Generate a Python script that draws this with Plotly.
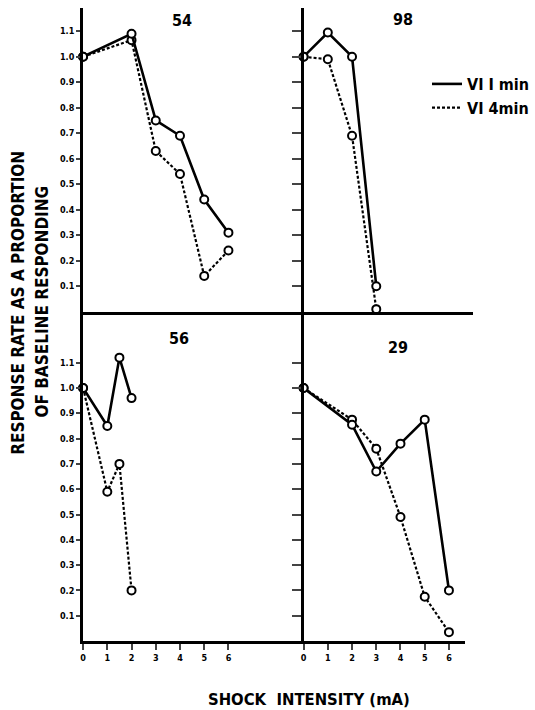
import plotly.graph_objects as go

# ---------------- data ----------------
x_54_1 = [0, 2, 3, 4, 5, 6]
y_54_1 = [1.0, 1.09, 0.75, 0.69, 0.44, 0.31]
x_54_4 = [0, 2, 3, 4, 5, 6]
y_54_4 = [1.0, 1.065, 0.63, 0.54, 0.14, 0.24]

x_98_1 = [0, 1, 2, 3]
y_98_1 = [1.0, 1.095, 1.0, 0.10]
x_98_4 = [0, 1, 2, 3]
y_98_4 = [1.0, 0.99, 0.69, 0.01]

x_56_1 = [0, 1, 1.5, 2]
y_56_1 = [1.0, 0.85, 1.12, 0.96]
x_56_4 = [0, 1, 1.5, 2]
y_56_4 = [1.0, 0.59, 0.70, 0.20]

x_29_1 = [0, 2, 3, 4, 5, 6]
y_29_1 = [1.0, 0.855, 0.67, 0.78, 0.875, 0.20]
x_29_4 = [0, 2, 3, 4, 5, 6]
y_29_4 = [1.0, 0.875, 0.76, 0.49, 0.175, 0.035]

y_tickvals = [0.1, 0.2, 0.3, 0.4, 0.5, 0.6, 0.7, 0.8, 0.9, 1.0, 1.1]
y_ticktext = ["0.1", "0.2", "0.3", "0.4", "0.5", "0.6", "0.7", "0.8", "0.9", "1.0", "1.1"]
x_tickvals = [0, 1, 2, 3, 4, 5, 6]
x_ticktext = ["0", "1", "2", "3", "4", "5", "6"]

panel_titles = ["54", "98", "56", "29"]
series_names = ["VI I min", "VI 4min"]

# ---------------- layout geometry ----------------
W, H = 535, 710
FONT = "DejaVu Sans Condensed, Liberation Sans Narrow, Arial Narrow, sans-serif"
PXU = 24.5          # px per mA
X0L, XM, XR_TOP, XR_BOT = 81, 304, 475, 467
Y_TOP, Y_MID, Y_BOT = 8, 311.7, 641
PX_TOP = 255.0      # px per unit response (top row)
PX_BOT = 253.0      # bottom row

def px_x(p):
    return p / W

def px_y(p):
    return 1 - p / H

fig = go.Figure()

panels = [
    ("x", "y", (x_54_1, y_54_1), (x_54_4, y_54_4)),
    ("x2", "y2", (x_98_1, y_98_1), (x_98_4, y_98_4)),
    ("x3", "y3", (x_56_1, y_56_1), (x_56_4, y_56_4)),
    ("x4", "y4", (x_29_1, y_29_1), (x_29_4, y_29_4)),
]

marker = dict(symbol="circle", size=8, color="white", line=dict(color="black", width=2))
for xa, ya, d1, d4 in panels:
    fig.add_trace(go.Scatter(x=d4[0], y=d4[1], xaxis=xa, yaxis=ya, mode="lines+markers",
                             line=dict(color="black", width=2.2, dash="3px,2px"),
                             marker=marker, cliponaxis=False, showlegend=False))
    fig.add_trace(go.Scatter(x=d1[0], y=d1[1], xaxis=xa, yaxis=ya, mode="lines+markers",
                             line=dict(color="black", width=2.6),
                             marker=marker, cliponaxis=False, showlegend=False))

# legend entries
fig.add_trace(go.Scatter(x=[None], y=[None], mode="lines", name=series_names[0],
                         line=dict(color="black", width=2.6), showlegend=True))
fig.add_trace(go.Scatter(x=[None], y=[None], mode="lines", name=series_names[1],
                         line=dict(color="black", width=2.2, dash="3px,2px"), showlegend=True))

axis_common = dict(showline=True, linecolor="black", linewidth=3, showgrid=False,
                   zeroline=False, mirror=False)
tickfont = dict(family=FONT, size=9, color="black", weight="bold")

fig.update_layout(
    width=W, height=H, autosize=False,
    margin=dict(l=0, r=0, t=0, b=0),
    paper_bgcolor="white", plot_bgcolor="white",
    font=dict(family=FONT, color="black"),
    showlegend=True,
    legend=dict(x=px_x(429), y=px_y(67), xanchor="left", yanchor="top",
                bgcolor="rgba(0,0,0,0)", font=dict(family=FONT, size=16, weight="bold"),
                itemwidth=30, tracegroupgap=0),
    xaxis=dict(domain=[px_x(X0L), px_x(XM)], range=[0, (XM - X0L) / PXU], anchor="y",
               ticks="", showticklabels=False, **axis_common),
    yaxis=dict(domain=[px_y(Y_MID), px_y(Y_TOP)], range=[0, (Y_MID - Y_TOP) / PX_TOP], anchor="x",
               ticks="outside", ticklen=4, tickwidth=2, tickvals=y_tickvals, ticktext=y_ticktext,
               tickfont=tickfont, **axis_common),
    xaxis2=dict(domain=[px_x(XM), px_x(XR_TOP)], range=[0, (XR_TOP - XM) / PXU], anchor="y2",
                ticks="", showticklabels=False, **axis_common),
    yaxis2=dict(domain=[px_y(Y_MID), px_y(Y_TOP)], range=[0, (Y_MID - Y_TOP) / PX_TOP], anchor="x2",
                ticks="outside", ticklen=9, tickwidth=2, tickvals=y_tickvals, showticklabels=False,
                **axis_common),
    xaxis3=dict(domain=[px_x(X0L), px_x(XM)], range=[0, (XM - X0L) / PXU], anchor="y3",
                ticks="outside", ticklen=6, tickwidth=2, tickvals=x_tickvals, ticktext=x_ticktext,
                tickfont=tickfont, **axis_common),
    yaxis3=dict(domain=[px_y(Y_BOT), px_y(Y_MID)], range=[0, (Y_BOT - Y_MID) / PX_BOT], anchor="x3",
                ticks="outside", ticklen=4, tickwidth=2, tickvals=y_tickvals, ticktext=y_ticktext,
                tickfont=tickfont, **axis_common),
    xaxis4=dict(domain=[px_x(XM), px_x(XR_BOT)], range=[0, (XR_BOT - XM) / PXU], anchor="y4",
                ticks="outside", ticklen=6, tickwidth=2, tickvals=x_tickvals, ticktext=x_ticktext,
                tickfont=tickfont, **axis_common),
    yaxis4=dict(domain=[px_y(Y_BOT), px_y(Y_MID)], range=[0, (Y_BOT - Y_MID) / PX_BOT], anchor="x4",
                ticks="outside", ticklen=9, tickwidth=2, tickvals=y_tickvals, showticklabels=False,
                **axis_common),
)

title_font = dict(family=FONT, size=16, color="black", weight="bold")
title_pos = [("x", "y", 4.1, 1.14), ("x2", "y2", 4.1, 1.145), ("x3", "y3", 3.96, 1.195), ("x4", "y4", 3.9, 1.16)]
for (xr, yr, tx, ty), t in zip(title_pos, panel_titles):
    fig.add_annotation(x=tx, y=ty, xref=xr, yref=yr, text=t, showarrow=False, font=title_font,
                       xanchor="center", yanchor="middle")

ylab_font = dict(family=FONT, size=17, color="black", weight="bold")
fig.add_annotation(x=px_x(15), y=px_y(303), xref="paper", yref="paper", xanchor="center", yanchor="middle",
                   text="RESPONSE RATE AS A PROPORTION", textangle=-90, showarrow=False, font=ylab_font)
fig.add_annotation(x=px_x(39), y=px_y(302), xref="paper", yref="paper", xanchor="center", yanchor="middle",
                   text="OF BASELINE RESPONDING", textangle=-90, showarrow=False, font=ylab_font)
fig.add_annotation(x=px_x(309), y=px_y(699), xref="paper", yref="paper", xanchor="center", yanchor="middle",
                   text="SHOCK&nbsp;&nbsp;INTENSITY (mA)", showarrow=False,
                   font=dict(family=FONT, size=16.5, color="black", weight="bold"))

fig.write_html("out.html", config={"displayModeBar": False},
               post_script="document.body.style.margin='0';")
